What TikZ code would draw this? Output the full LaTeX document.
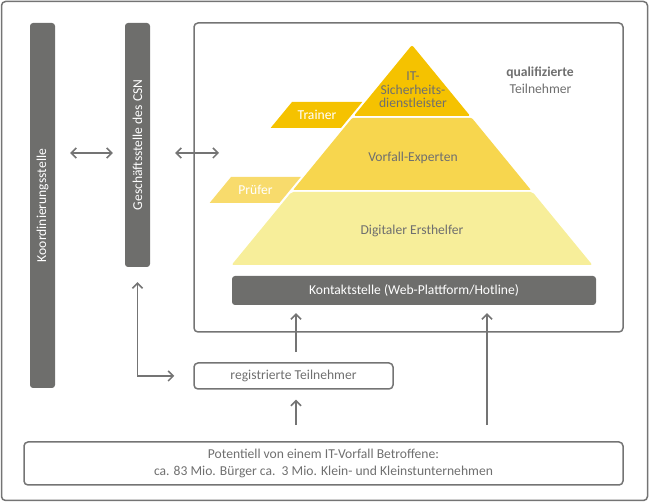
\documentclass[tikz,border=0pt]{standalone}
\usepackage{fontspec}
\setmainfont{Carlito}
\usepackage{tikz}
\usetikzlibrary{arrows.meta, positioning}
\definecolor{csngray}{HTML}{6E6E6C}
\definecolor{csnline}{HTML}{747474}
\definecolor{csntext}{HTML}{6F6F6F}
\definecolor{levelA}{HTML}{F5C200}
\definecolor{levelB}{HTML}{F7D64E}
\definecolor{levelC}{HTML}{F7EE9A}
\definecolor{levelP}{HTML}{F8DB6C}
\tikzset{CSNChart/.style = {% styles of the CSN picture
       bar/.style = {rectangle, fill=csngray, rounded corners=3pt,
                     text=white, inner sep=0pt, align=center},
   outline/.style = {draw=csnline, line width=1.5pt, rounded corners=4pt},
       box/.style = {rectangle, draw=csnline, line width=1.5pt, rounded corners=4pt,
                     text=csntext, inner sep=0pt, align=center},
   lvltext/.style = {text=csntext, inner sep=0pt, align=center},
     arrow/.style = {draw=csnline, line width=1.5pt, -{Straight Barb[length=5pt,width=10pt]}},
    darrow/.style = {arrow, {Straight Barb[length=5pt,width=10pt]}-{Straight Barb[length=5pt,width=10pt]}}}
        }

\begin{document}
\begin{tikzpicture}[CSNChart, x=1pt, y=-1pt,
    font=\fontsize{13.6}{17}\selectfont]
\useasboundingbox (0,0) rectangle (649,502);
\draw[outline] (1.5,1.5) rectangle (647.5,500.5);

% pyramid
\fill[levelA, rounded corners=2pt] (412,45) -- (470.2,116) -- (353.8,116) -- cycle;
\fill[levelB, rounded corners=1pt] (352.1,118) -- (471.9,118) -- (530.9,190) -- (293.1,190) -- cycle;
\fill[levelC, rounded corners=2pt] (291.5,192) -- (532.5,192) -- (592.4,265) -- (231.6,265) -- cycle;
\fill[levelA] (292,102) -- (362.3,102) -- (340.9,128) -- (270.6,128) -- cycle;
\fill[levelP] (231,177) -- (300.8,177) -- (279.4,203) -- (209.6,203) -- cycle;

% nodes
\node (qual)    [outline, minimum width=429pt, minimum height=309pt] at (408.5,177.5) {};
\node (koord)   [bar, minimum width=25pt, minimum height=365pt] at (42.5,205.5)
                {\rotatebox{90}{Koordinierungsstelle}};
\node (gesch)   [bar, minimum width=25pt, minimum height=244pt] at (137.5,145)
                {\rotatebox{90}{Geschäftsstelle des CSN}};
\node (kontakt) [bar, minimum width=364pt, minimum height=29pt] at (414,290.5)
                {Kontaktstelle (Web-Plattform/Hotline)};
\node (reg)     [box, minimum width=199pt, minimum height=26pt] at (293.5,376)
                {registrierte Teilnehmer};
\node (pot)     [box, minimum width=599pt, minimum height=43pt] at (323.5,463.5)
                {Potentiell von einem IT-Vorfall Betroffene:\\ca. 83 Mio. Bürger ca.\ \ 3 Mio. Klein- und Kleinstunternehmen};
\node (itsd)    [lvltext, font=\fontsize{13.6}{13.5}\selectfont] at (413,90) {IT-\\Sicherheits-\\dienstleister};
\node (vorfall) [lvltext] at (413,158) {Vorfall-Experten};
\node (ersth)   [lvltext] at (412,231) {Digitaler Ersthelfer};
\node (trainer) [lvltext, text=white] at (317,115) {Trainer};
\node (pruefer) [lvltext, text=white] at (255.5,190) {Prüfer};
\node (qtitle)  [lvltext, font=\fontsize{13.6}{17}\bfseries] at (540,72.5) {qualifizierte};
\node (qsub)    [lvltext] at (540.5,89) {Teilnehmer};

% extra paths
\coordinate (row)  at (0,153);
\coordinate (inl)  at (219,153);
\coordinate (col1) at (296,0);
\coordinate (col2) at (487,0);
\draw[darrow, shorten <=15pt, shorten >=12pt] (koord.east |- row) -- (gesch.west |- row);
\draw[darrow, shorten <=25pt] (gesch.east |- row) -- (inl);
\draw[darrow, shorten <=15pt, shorten >=19pt] (gesch.south) |- (reg.west);
\draw[arrow, shorten <=10pt, shorten >=8pt] (reg.north -| col1) -- (kontakt.south -| col1);
\draw[arrow, shorten <=16pt, shorten >=10pt] (pot.north -| col1) -- (reg.south -| col1);
\draw[arrow, shorten <=16pt, shorten >=8pt] (pot.north -| col2) -- (kontakt.south -| col2);

\end{tikzpicture}
\end{document}
